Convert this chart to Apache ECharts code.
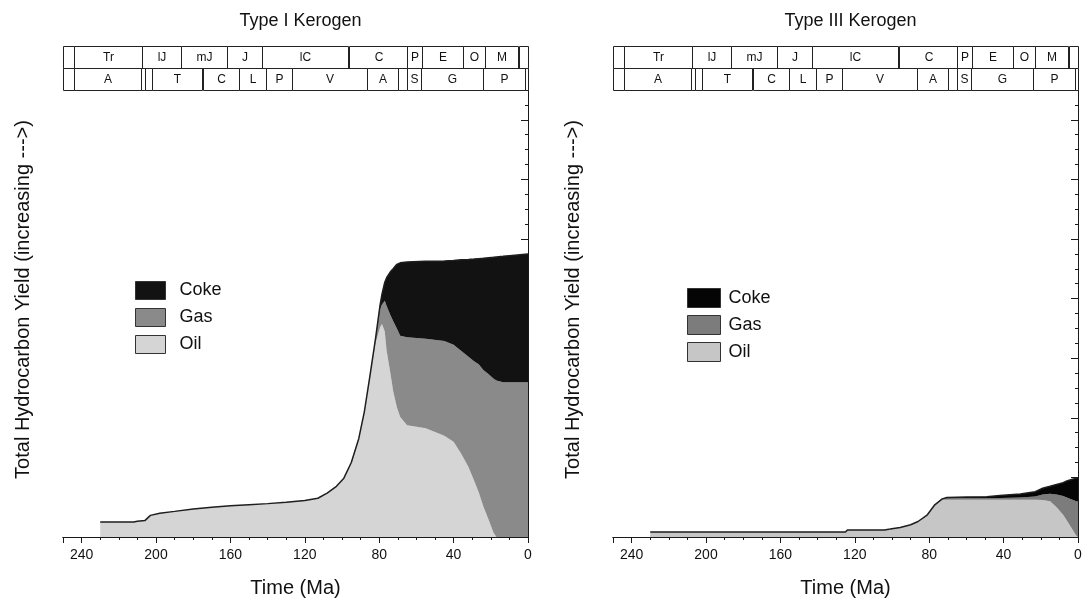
<!DOCTYPE html>
<html><head><meta charset="utf-8">
<script src="https://cdn.jsdelivr.net/npm/echarts@6/dist/echarts.min.js"></script>
<style>html,body{margin:0;padding:0;background:#fff}#c{width:1085px;height:603px}</style>
</head><body><div id="c"></div>
<script>
// ---------------- DATA ----------------
const panelTitles = ['Type I Kerogen', 'Type III Kerogen'];
const legendNames = ['Coke', 'Gas', 'Oil'];
const xAxisName = 'Time (Ma)';
const yAxisName = 'Total Hydrocarbon Yield (increasing --->)';

// Stratigraphic header (Ma boundaries, old -> young) and labels
const headerTopBounds = [250, 244, 207.5, 186.5, 162, 143, 96.5, 65, 57, 35, 23, 5, 0];
const headerTopLabels = ['', 'Tr', 'lJ', 'mJ', 'J', 'lC', 'C', 'P', 'E', 'O', 'M', ''];
const headerBotBounds = [250, 244, 208, 206, 202, 175, 155.5, 141, 127, 86.5, 70, 65, 57.5, 24, 1.5, 0];
const headerBotLabels = ['', 'A', '', '', 'T', 'C', 'L', 'P', 'V', 'A', '', 'S', 'G', 'P', ''];

// Type I kerogen: time (Ma) and cumulative tops of the Oil, Oil+Gas and Oil+Gas+Coke bands
const timeTypeI     = [230, 212, 210, 206, 203, 198, 190, 180, 170, 160, 150, 140, 130, 120, 113, 108, 103, 99, 95, 91, 88, 85, 82, 79.5, 78.5, 77, 76, 74, 72.5, 70.5, 68.7, 65, 55, 45, 40, 36, 32, 29, 26.5, 24, 21, 18.6, 17, 13.4, 10, 0];
const oilTopTypeI   = [1.0, 1.0, 1.05, 1.1, 1.45, 1.6, 1.72, 1.88, 2.0, 2.1, 2.17, 2.24, 2.33, 2.45, 2.6, 2.94, 3.4, 3.95, 5.0, 6.6, 8.4, 10.8, 13.0, 14.1, 14.3, 13.8, 12.5, 11.0, 9.8, 8.7, 8.05, 7.5, 7.3, 6.8, 6.4, 5.6, 4.7, 3.8, 3.0, 2.05, 1.1, 0.3, 0, 0, 0, 0];
const gasTopTypeI   = [1.0, 1.0, 1.05, 1.1, 1.45, 1.6, 1.72, 1.88, 2.0, 2.1, 2.17, 2.24, 2.33, 2.45, 2.6, 2.94, 3.4, 3.95, 5.0, 6.6, 8.4, 10.8, 13.3, 15.3, 15.6, 15.85, 15.5, 14.9, 14.5, 14.0, 13.5, 13.4, 13.3, 13.15, 12.9, 12.5, 12.1, 11.8, 11.6, 11.2, 10.9, 10.63, 10.5, 10.39, 10.39, 10.39];
const totalTypeI    = [1.0, 1.0, 1.05, 1.1, 1.45, 1.6, 1.72, 1.88, 2.0, 2.1, 2.17, 2.24, 2.33, 2.45, 2.6, 2.94, 3.4, 3.95, 5.0, 6.6, 8.4, 10.8, 13.3, 15.6, 16.3, 17.1, 17.4, 17.8, 18.0, 18.3, 18.4, 18.45, 18.5, 18.52, 18.55, 18.6, 18.62, 18.65, 18.68, 18.7, 18.74, 18.77, 18.8, 18.84, 18.88, 19.0];

// Type III kerogen
const timeTypeIII   = [230, 125, 124, 104, 101, 95.6, 90, 86, 81, 77, 73, 70.5, 60, 49, 42, 31, 23, 19, 15, 11.5, 8, 6, 3, 1, 0];
const oilTopTypeIII = [0.33, 0.33, 0.47, 0.47, 0.53, 0.64, 0.82, 1.04, 1.49, 2.16, 2.5, 2.5, 2.5, 2.5, 2.5, 2.5, 2.5, 2.48, 2.4, 2.0, 1.5, 1.1, 0.5, 0.1, 0];
const gasTopTypeIII = [0.33, 0.33, 0.47, 0.47, 0.53, 0.64, 0.82, 1.04, 1.49, 2.16, 2.56, 2.6, 2.6, 2.6, 2.62, 2.65, 2.72, 2.85, 2.9, 2.85, 2.75, 2.65, 2.5, 2.4, 2.38];
const totalTypeIII  = [0.33, 0.33, 0.47, 0.47, 0.53, 0.64, 0.82, 1.04, 1.49, 2.16, 2.56, 2.65, 2.69, 2.7, 2.78, 2.89, 3.04, 3.27, 3.4, 3.53, 3.65, 3.76, 3.88, 3.95, 3.98];

// ---------------- CHART ----------------
const FONT = 'Liberation Sans';
const X_MAX = 250, Y_MAX = 30;
const panels = [
  { left: 63, right: 557, time: timeTypeI, oil: oilTopTypeI, gas: gasTopTypeI, total: totalTypeI,
    colors: { Oil: '#d5d5d5', Gas: '#8a8a8a', Coke: '#121212' },
    legend: { left: 135, top: 281, itemWidth: 30, itemHeight: 18, itemGap: 8, textGap: 14 } },
  { left: 613, right: 7, time: timeTypeIII, oil: oilTopTypeIII, gas: gasTopTypeIII, total: totalTypeIII,
    colors: { Oil: '#c6c6c6', Gas: '#7c7c7c', Coke: '#050505' },
    legend: { left: 687, top: 288, itemWidth: 33, itemHeight: 19, itemGap: 7, textGap: 8 } }
];

const headerCells = [];
headerTopLabels.forEach((lab, i) => headerCells.push([headerTopBounds[i], headerTopBounds[i + 1], 1, lab]));
headerBotLabels.forEach((lab, i) => headerCells.push([headerBotBounds[i], headerBotBounds[i + 1], 0, lab]));

const AX = '#1a1a1a';
const option = {
  animation: false,
  backgroundColor: '#fff',
  textStyle: { fontFamily: FONT, color: '#111' },
  title: [], grid: [], xAxis: [], yAxis: [], series: [], legend: []
};

// band polygon drawn through the axis scale (api.coord)
function bandRender(params, api) {
  if (params.dataIndexInside !== 0) return null;
  const n = params.dataInsideLength;
  const up = [], lo = [];
  for (let i = 0; i < n; i++) {
    const t = api.value(0, i);
    up.push(api.coord([t, api.value(2, i)]));
    lo.push(api.coord([t, api.value(1, i)]));
  }
  return { type: 'polygon', shape: { points: up.concat(lo.reverse()) },
    style: { fill: api.visual('color'), stroke: null }, silent: true };
}

panels.forEach((p, pi) => {
  const g = option.grid.length;
  option.grid.push({ left: p.left, right: p.right, top: 90, bottom: 65 });
  option.grid.push({ left: p.left, right: p.right, top: 46, height: 44 });
  const width = 1085 - p.left - p.right;
  option.title.push({ text: panelTitles[pi], left: p.left + width / 2, top: 7, textAlign: 'center',
    textStyle: { fontFamily: FONT, fontSize: 18, fontWeight: 'normal', color: '#111' } });

  const xi = option.xAxis.length;
  const baseX = { type: 'value', gridIndex: g, min: 0, max: X_MAX, inverse: true, splitLine: { show: false } };
  option.xAxis.push(Object.assign({}, baseX, { position: 'bottom', interval: 10,
    axisLine: { show: true, lineStyle: { color: AX, width: 1 } },
    axisTick: { show: true, inside: false, length: 3, lineStyle: { color: AX } }, axisLabel: { show: false } }));
  option.xAxis.push(Object.assign({}, baseX, { position: 'bottom', interval: 40,
    axisLine: { show: false }, axisTick: { show: true, inside: false, length: 6, lineStyle: { color: AX } },
    axisLabel: { show: true, fontSize: 14, margin: 11, color: '#111', fontFamily: FONT, showMaxLabel: false },
    name: xAxisName, nameLocation: 'middle', nameGap: 41,
    nameTextStyle: { fontSize: 20, color: '#111', fontFamily: FONT } }));
  option.xAxis.push(Object.assign({}, baseX, { position: 'top', interval: 10,
    axisLine: { show: true, lineStyle: { color: AX, width: 1 } },
    axisTick: { show: true, inside: true, length: 3, lineStyle: { color: AX } }, axisLabel: { show: false } }));
  option.xAxis.push(Object.assign({}, baseX, { position: 'top', interval: 40,
    axisLine: { show: false }, axisTick: { show: true, inside: true, length: 6, lineStyle: { color: AX } },
    axisLabel: { show: false } }));
  option.xAxis.push(Object.assign({}, baseX, { gridIndex: g + 1, show: false }));

  const yi = option.yAxis.length;
  const baseY = { type: 'value', gridIndex: g, min: 0, max: Y_MAX, splitLine: { show: false }, axisLabel: { show: false } };
  option.yAxis.push(Object.assign({}, baseY, { position: 'left', interval: 1,
    axisLine: { show: true, lineStyle: { color: AX, width: 1 } },
    axisTick: { show: true, inside: false, length: 3, lineStyle: { color: AX } } }));
  option.yAxis.push(Object.assign({}, baseY, { position: 'left', interval: 4,
    axisLine: { show: false }, axisTick: { show: true, inside: false, length: 7, lineStyle: { color: AX } },
    name: yAxisName, nameLocation: 'middle', nameGap: 30, nameRotate: 90,
    nameTextStyle: { fontSize: 20, color: '#111', fontFamily: FONT, padding: [0, 0, 0, 28] } }));
  option.yAxis.push(Object.assign({}, baseY, { position: 'right', interval: 1,
    axisLine: { show: true, lineStyle: { color: AX, width: 1 } },
    axisTick: { show: true, inside: true, length: 3, lineStyle: { color: AX } } }));
  option.yAxis.push(Object.assign({}, baseY, { position: 'right', interval: 4,
    axisLine: { show: false }, axisTick: { show: true, inside: true, length: 6, lineStyle: { color: AX } } }));
  option.yAxis.push({ type: 'value', gridIndex: g + 1, min: 0, max: 2, show: false });

  const bands = [
    { name: 'Oil', lo: p.time.map(() => 0), hi: p.oil },
    { name: 'Gas', lo: p.oil, hi: p.gas },
    { name: 'Coke', lo: p.gas, hi: p.total }
  ];
  bands.forEach(b => {
    option.series.push({
      type: 'custom', name: b.name, xAxisIndex: xi, yAxisIndex: yi, z: 2,
      encode: { x: 0, y: [1, 2] },
      itemStyle: { color: p.colors[b.name] },
      data: p.time.map((t, i) => [t, b.lo[i], b.hi[i]]),
      renderItem: bandRender
    });
  });
  option.series.push({
    type: 'line', name: 'outline', xAxisIndex: xi, yAxisIndex: yi, z: 3,
    data: p.time.map((t, i) => [t, p.total[i]]),
    showSymbol: false, symbol: 'none', silent: true,
    lineStyle: { color: '#1e1e1e', width: 1.5 }
  });

  option.series.push({
    type: 'custom', xAxisIndex: xi + 4, yAxisIndex: yi + 4, silent: true,
    data: headerCells.map(c => [c[0], c[1], c[2]]),
    renderItem: (params, api) => {
      const s = api.value(0), e = api.value(1), row = api.value(2);
      const a = api.coord([s, row + 1]);
      const b = api.coord([e, row]);
      const x = Math.round(Math.min(a[0], b[0])) + 0.5;
      const y = Math.round(Math.min(a[1], b[1])) + 0.5;
      const w = Math.round(Math.abs(b[0] - a[0]));
      const h = Math.round(Math.abs(b[1] - a[1]));
      return {
        type: 'rect', shape: { x: x, y: y, width: w, height: h },
        style: { fill: '#fff', stroke: '#222', lineWidth: 1 },
        textContent: { style: { text: headerCells[params.dataIndex][3], fontSize: 12, fontFamily: FONT, fill: '#111' } },
        textConfig: { position: 'inside' }
      };
    }
  });

  const lg = p.legend;
  option.legend.push({
    orient: 'vertical', left: lg.left, top: lg.top, itemWidth: lg.itemWidth, itemHeight: lg.itemHeight,
    itemGap: lg.itemGap, icon: 'rect', selectedMode: false, padding: 0, z: 10,
    textStyle: { fontSize: 18, color: '#111', fontFamily: FONT, padding: [0, 0, 0, lg.textGap - 5] },
    data: legendNames.map(n => ({ name: n, icon: 'rect',
      itemStyle: { color: p.colors[n], borderColor: '#333', borderWidth: 1 } }))
  });
});

const chart = echarts.init(document.getElementById('c'), null, { renderer: 'canvas' });
chart.setOption(option);
</script>
</body></html>
